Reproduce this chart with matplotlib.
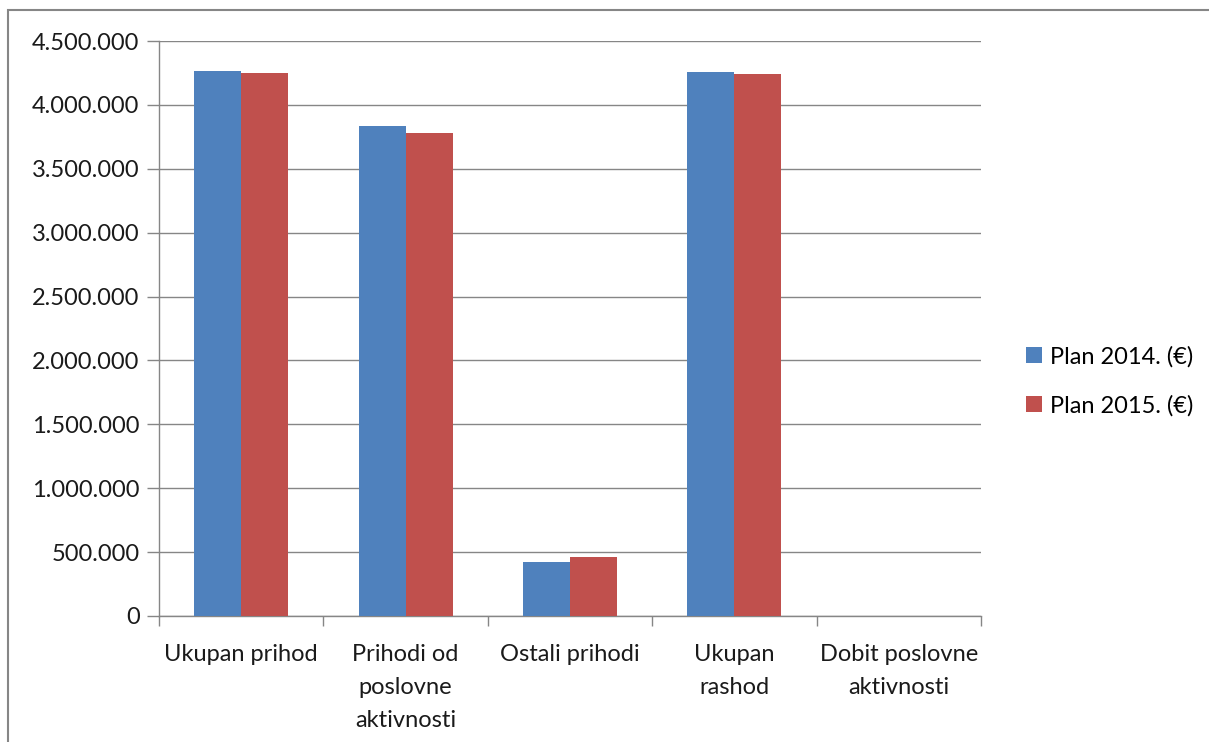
import matplotlib.pyplot as plt
import matplotlib.ticker as mticker
from matplotlib.patches import Rectangle
import numpy as np

plt.rcParams['font.family'] = ['Lato', 'DejaVu Sans']

categories = ["Ukupan prihod", "Prihodi od\nposlovne\naktivnosti", "Ostali prihodi",
              "Ukupan\nrashod", "Dobit poslovne\naktivnosti"]
plan_2014 = [4265000, 3835000, 425000, 4257000, 0]
plan_2015 = [4250000, 3780000, 464000, 4242000, 0]
series_names = ["Plan 2014. (€)", "Plan 2015. (€)"]

W, H = 1209, 742
fig = plt.figure(figsize=(W / 100, H / 100), dpi=100)
ax = fig.add_axes([159 / W, 1 - 616 / H, 822 / W, 575 / H])

# outer chart border
fig.patches.append(Rectangle((8 / W, -0.05), 1.1, 1 - 10 / H + 0.05,
                             transform=fig.transFigure, fill=False,
                             edgecolor="#868686", lw=1.5))

x = np.arange(len(categories))
bw = 0.286
ax.bar(x - bw / 2, plan_2014, bw, color="#4F81BD", label=series_names[0], zorder=3)
ax.bar(x + bw / 2, plan_2015, bw, color="#C0504D", label=series_names[1], zorder=3)

ax.set_xlim(-0.5, len(categories) - 0.5)
ax.set_ylim(0, 4500000)
ax.yaxis.set_major_locator(mticker.MultipleLocator(500000))
ax.yaxis.set_major_formatter(mticker.FuncFormatter(
    lambda v, p: "{:,.0f}".format(v).replace(",", ".")))
ax.grid(axis="y", color="#868686", lw=1, zorder=0)

ax.set_xticks(np.arange(len(categories) + 1) - 0.5, minor=False)
ax.set_xticklabels([])
ax.set_xticks(x, minor=True)
ax.set_xticklabels(categories, minor=True, fontsize=17, linespacing=1.72, va="top")
ax.tick_params(axis="x", which="major", length=7, width=1)
ax.tick_params(axis="x", which="minor", length=0, pad=20)
ax.tick_params(axis="y", length=9, width=1, labelsize=17, pad=5)
ax.tick_params(axis="both", which="both", color="#868686", labelcolor="#1a1a1a")

for s in ["top", "right"]:
    ax.spines[s].set_visible(False)
for s in ["left", "bottom"]:
    ax.spines[s].set_color("#868686")
    ax.spines[s].set_linewidth(1)

ax.legend(loc="center left", bbox_to_anchor=(1005 / W, 1 - 381 / H),
          bbox_transform=fig.transFigure, frameon=False, fontsize=17,
          handlelength=0.65, handleheight=0.65, labelspacing=1.15, handletextpad=0.35)

fig.savefig("out.png", dpi=100)
